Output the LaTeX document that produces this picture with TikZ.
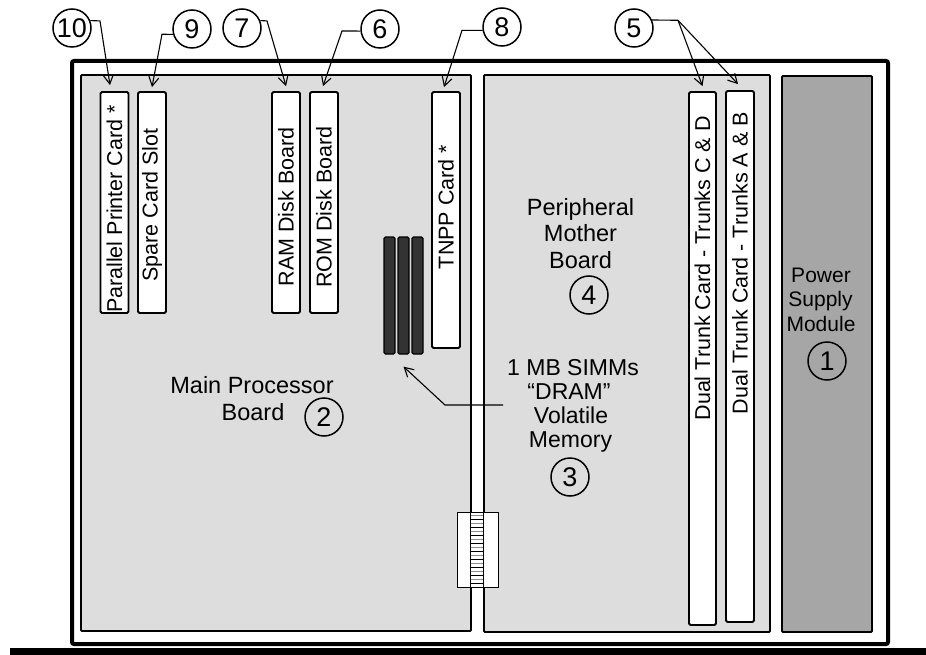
\documentclass[tikz,border=0pt]{standalone}
\usepackage{fontspec}
\setmainfont{Liberation Sans}
\usetikzlibrary{arrows.meta}
\definecolor{boardgray}{HTML}{DDDDDD}
\definecolor{psgray}{HTML}{A6A6A6}
\definecolor{simmgray}{HTML}{333333}
\begin{document}
\begin{tikzpicture}[x=1pt,y=-1pt,
  board/.style={draw=black, line width=1.8pt, fill=boardgray, rounded corners=1pt},
  cardbox/.style={draw=black, line width=1.8pt, fill=white, rounded corners=1.5pt, inner sep=0pt, minimum width=28pt},
  simmbar/.style={draw=black, line width=1.2pt, fill=simmgray, rounded corners=1.5pt, inner sep=0pt, minimum width=11pt, minimum height=117pt},
  cardtext/.style={rotate=90, font=\fontsize{21.5}{21.5}\selectfont, inner sep=0pt},
  lbl/.style={font=\fontsize{23.5}{26}\selectfont, inner sep=0pt, anchor=base},
  lbls/.style={font=\fontsize{23}{24}\selectfont, inner sep=0pt, anchor=base},
  lblp/.style={font=\fontsize{21}{24}\selectfont, inner sep=0pt, anchor=base},
  num/.style={circle, draw=black, line width=1.5pt, minimum size=38pt, inner sep=0pt, font=\fontsize{27}{27}\selectfont},
  lead/.style={draw=black, line width=1.1pt, -{Straight Barb[length=9pt,width=10pt,line width=1.1pt]}},
]
\useasboundingbox (0,0) rectangle (926,655);
% outer frame and base
\draw[line width=4pt, rounded corners=2pt] (72,61) rectangle (888,644);
\fill[black] (10,648) rectangle (926,655);
% boards
\draw[board] (81,75) rectangle (471,631);
\draw[board] (484,75) rectangle (770,632);
\draw[board, fill=psgray] (782,76) rectangle (872,632);
% cards
\node[cardbox, minimum height=221pt] (ppc) at (114.5,202.5) {};
\node[cardbox, minimum height=221pt] (spare) at (152,202.5) {};
\node[cardbox, minimum height=221pt] (ram) at (286,202.5) {};
\node[cardbox, minimum height=221pt] (rom) at (324,202.5) {};
\node[cardbox, minimum height=256pt] (tnpp) at (446,220) {};
\node[cardbox, minimum height=533pt, minimum width=27pt] (tcd) at (702.5,358.5) {};
\node[cardbox, minimum height=531pt] (tab) at (740,356.5) {};
\node[cardtext] (tppc) at (114.5,209) {Parallel Printer Card *};
\node[cardtext] (tspare) at (152,205) {Spare Card Slot};
\node[cardtext] (tram) at (286,207) {RAM Disk Board};
\node[cardtext] (trom) at (324,207) {ROM Disk Board};
\node[cardtext] (ttnpp) at (446,207) {TNPP Card *};
\node[cardtext, anchor=east] (ttcd) at (702.5,116) {Dual Trunk Card - Trunks C \& D};
\node[cardtext, anchor=east] (ttab) at (740,112) {Dual Trunk Card - Trunks A \& B};
% SIMMs
\node[simmbar] (simm1) at (389.5,295.5) {};
\node[simmbar] (simm2) at (403.5,295.5) {};
\node[simmbar] (simm3) at (417.5,295.5) {};
% connector between boards
\draw[fill=white, line width=0.9pt] (457,512) rectangle (498,587);
\foreach \i in {0,...,17} {
  \pgfmathsetmacro{\yy}{515+4*\i}
  \ifodd\i
    \draw[black, line width=0.8pt] (470,\yy) -- (484,\yy);
  \else
    \draw[black!45, line width=0.8pt] (470,\yy) -- (484,\yy);
  \fi
}
\draw[line width=1.8pt] (470.5,512) -- (470.5,587);
\draw[line width=1.8pt] (483.5,512) -- (483.5,587);
% labels
\node[lbl] (mp1) at (252,393) {Main Processor};
\node[lbl] (mp2) at (253,420) {Board};
\node[num] (c2) at (324,417) {2};
\node[lbl] (pm1) at (580.5,215) {Peripheral};
\node[lbl] (pm2) at (580.5,241.5) {Mother};
\node[lbl] (pm3) at (580.5,268) {Board};
\node[num] (c4) at (589,295) {4};
\node[lbls] (sm1) at (573,375) {1 MB SIMMs};
\node[lbls] (sm2) at (569,399) {“DRAM”};
\node[lbls] (sm3) at (571,423) {Volatile};
\node[lbls] (sm4) at (570.5,447) {Memory};
\node[num] (c3) at (570,477) {3};
\node[lblp] (ps1) at (821,282) {Power};
\node[lblp] (ps2) at (820.5,306.5) {Supply};
\node[lblp] (ps3) at (821,331) {Module};
\node[num] (c1) at (827,361) {1};
% callouts
\node[num] (c10) at (72,28) {10};
\node[num] (c9) at (192,29) {9};
\node[num] (c7) at (242,28) {7};
\node[num] (c6) at (380,29) {6};
\node[num] (c8) at (502,27) {8};
\node[num] (c5) at (634,28) {5};
\coordinate (simstart) at (503,405);
\draw[lead] (c10.22) -- (100,20.9) -- ([xshift=-4.5pt,yshift=6pt]ppc.north);
\draw[lead] (c9.196) -- (162,34.2) -- ([yshift=4pt]spare.north);
\draw[lead] (c7.22) -- (267,20.9) -- ([yshift=5pt]ram.north);
\draw[lead] (c6.186) -- (342,31) -- ([xshift=-1pt,yshift=5pt]rom.north);
\draw[lead] (c8.190) -- (462,30.3) -- ([xshift=-2pt,yshift=4pt]tnpp.north);
\draw[line width=1.1pt] (c5.24) -- (678,20.3);
\draw[lead] (678,20.3) -- ([yshift=5pt]tcd.north);
\draw[lead] (678,20.3) -- ([xshift=-2pt,yshift=6pt]tab.north);
\draw[lead] (simstart) -- (445,405) -- ([yshift=-12pt]simm2.south);
\end{tikzpicture}
\end{document}
